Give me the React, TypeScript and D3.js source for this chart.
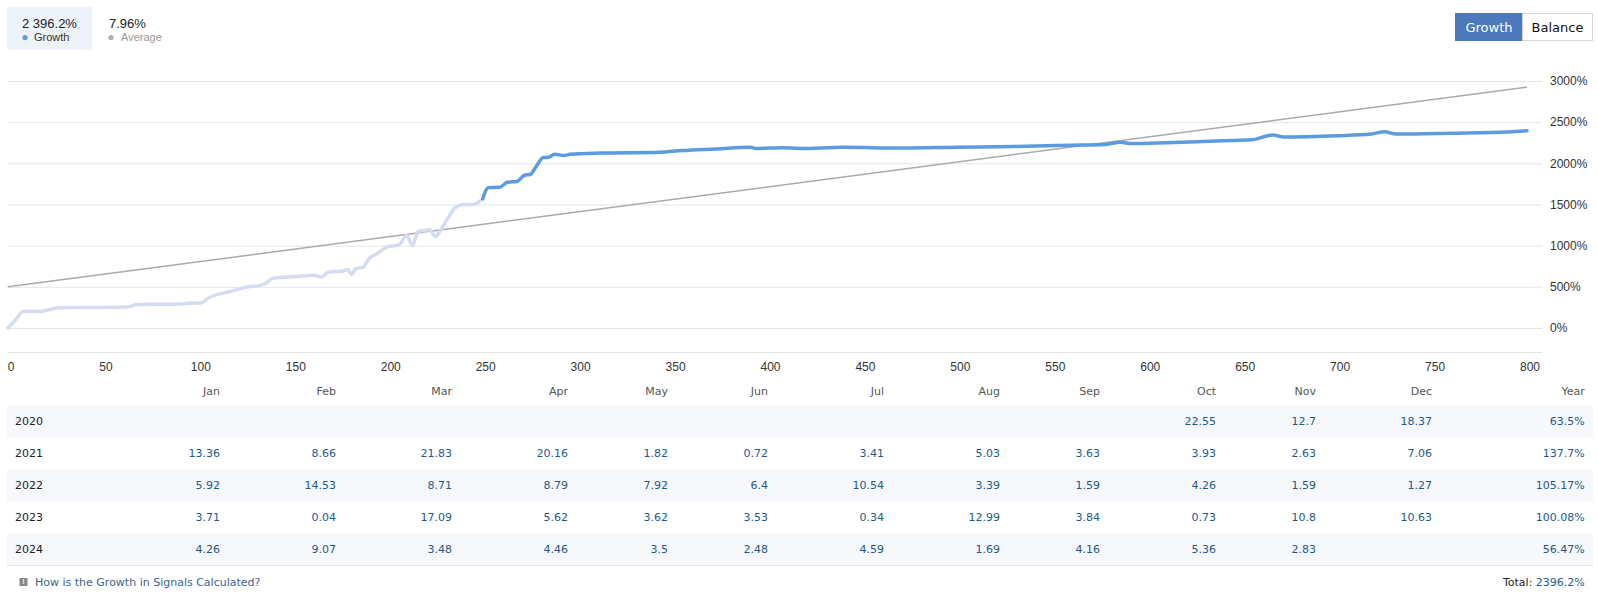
import { useEffect, useRef } from 'react';
import * as d3 from 'd3';

// growth curve (day -> %)
const historyDays = [0, 4, 8, 17, 22, 27, 38, 48, 63, 68, 80, 91, 97, 101, 106, 112, 118, 126, 133, 136, 139, 147, 155, 161, 165, 169, 176, 179, 181, 183, 187, 190, 194, 200, 206, 210, 213, 216, 220, 222, 225, 228, 231, 236, 240, 245, 250];
const historyPct = [0, 100, 200, 200, 225, 245, 250, 250, 255, 285, 288, 290, 305, 300, 370, 418, 450, 498, 518, 546, 600, 620, 632, 640, 620, 680, 690, 710, 650, 720, 740, 840, 900, 985, 1010, 1125, 1000, 1175, 1185, 1195, 1110, 1195, 1310, 1470, 1500, 1500, 1570];

const growthDays = [250, 253, 259, 263, 268, 272, 275, 278, 282, 284, 288, 293, 296, 312, 343, 355, 373, 391, 394, 408, 417, 440, 470, 500, 530, 560, 578, 586, 592, 610, 640, 655, 666, 672, 700, 718, 725, 731, 760, 790, 800];
const growthPct = [1570, 1705, 1710, 1770, 1780, 1855, 1865, 1955, 2070, 2070, 2110, 2095, 2110, 2125, 2135, 2155, 2175, 2195, 2180, 2190, 2180, 2195, 2185, 2195, 2205, 2220, 2230, 2255, 2240, 2250, 2275, 2285, 2345, 2320, 2335, 2355, 2385, 2355, 2365, 2380, 2396];

const averageDays = [0, 800];
const averagePct = [500, 2925];

const yTicks = [0, 500, 1000, 1500, 2000, 2500, 3000];
const xTicks = d3.range(0, 801, 50);

const months = ['Jan', 'Feb', 'Mar', 'Apr', 'May', 'Jun', 'Jul', 'Aug', 'Sep', 'Oct', 'Nov', 'Dec'];
const years = ['2020', '2021', '2022', '2023', '2024'];
const monthly: (number | null)[][] = [
  [null, null, null, null, null, null, null, null, null, 22.55, 12.7, 18.37],
  [13.36, 8.66, 21.83, 20.16, 1.82, 0.72, 3.41, 5.03, 3.63, 3.93, 2.63, 7.06],
  [5.92, 14.53, 8.71, 8.79, 7.92, 6.4, 10.54, 3.39, 1.59, 4.26, 1.59, 1.27],
  [3.71, 0.04, 17.09, 5.62, 3.62, 3.53, 0.34, 12.99, 3.84, 0.73, 10.8, 10.63],
  [4.26, 9.07, 3.48, 4.46, 3.5, 2.48, 4.59, 1.69, 4.16, 5.36, 2.83, null],
];
const yearly = ['63.5%', '137.7%', '105.17%', '100.08%', '56.47%'];

const totalGrowth = '2 396.2%';
const averageMonthly = '7.96%';
const totalLabel = '2396.2%';

const W = 1598;
const H = 598;
const FONT = '"Liberation Sans", Arial, sans-serif';
const TFONT = '"DejaVu Sans", Tahoma, sans-serif';

function Chart() {
  const ref = useRef<SVGSVGElement>(null);

  useEffect(() => {
    if (!ref.current) return;
    const svg = d3.select(ref.current);
    svg.selectAll('*').remove();

    const x = d3.scaleLinear().domain([0, 800]).range([8, 1527]);
    const y = d3.scaleLinear().domain([0, 3000]).range([328, 81]);

    // header summary
    const head = svg.append('g');
    head.append('rect').attr('x', 7).attr('y', 7).attr('width', 85).attr('height', 43).attr('fill', '#eef2f9');
    head.append('text').attr('x', 22).attr('y', 28).attr('font-family', FONT).attr('font-size', 13).attr('fill', '#222').text(totalGrowth);
    head.append('circle').attr('cx', 25).attr('cy', 37.5).attr('r', 2.6).attr('fill', '#5b9be0');
    head.append('text').attr('x', 34).attr('y', 41).attr('font-family', FONT).attr('font-size', 11).attr('fill', '#333').text('Growth');
    head.append('text').attr('x', 109).attr('y', 28).attr('font-family', FONT).attr('font-size', 13).attr('fill', '#222').text(averageMonthly);
    head.append('circle').attr('cx', 111).attr('cy', 37.5).attr('r', 2.6).attr('fill', '#b0b0b0');
    head.append('text').attr('x', 121).attr('y', 41).attr('font-family', FONT).attr('font-size', 11).attr('fill', '#999').text('Average');

    // toggle buttons
    const btn = svg.append('g');
    btn.append('rect').attr('x', 1455.5).attr('y', 13.5).attr('width', 67).attr('height', 27).attr('fill', '#4b79bb').attr('stroke', '#4b79bb');
    btn.append('rect').attr('x', 1522.5).attr('y', 13.5).attr('width', 70).attr('height', 27).attr('fill', '#fff').attr('stroke', '#d6d6d6');
    btn.append('text').attr('x', 1489).attr('y', 27).attr('dy', '0.35em').attr('text-anchor', 'middle').attr('font-family', TFONT).attr('font-size', 13).attr('fill', '#fff').text('Growth');
    btn.append('text').attr('x', 1557.5).attr('y', 27).attr('dy', '0.35em').attr('text-anchor', 'middle').attr('font-family', TFONT).attr('font-size', 13).attr('fill', '#111').text('Balance');

    // grid + y labels
    const grid = svg.append('g');
    grid.selectAll('line')
      .data(yTicks)
      .join('line')
      .attr('x1', 7)
      .attr('x2', 1542)
      .attr('y1', (d) => y(d) + 0.5)
      .attr('y2', (d) => y(d) + 0.5)
      .attr('stroke', '#e6e6e6');
    grid.append('line').attr('x1', 7).attr('x2', 1542).attr('y1', 352.5).attr('y2', 352.5).attr('stroke', '#e6e6e6');
    grid.selectAll('text')
      .data(yTicks)
      .join('text')
      .attr('x', 1550)
      .attr('y', (d) => y(d))
      .attr('dy', '0.35em')
      .attr('font-family', FONT)
      .attr('font-size', 12)
      .attr('fill', '#333')
      .text((d) => `${d}%`);

    // x labels
    svg.append('g')
      .selectAll('text')
      .data(xTicks)
      .join('text')
      .attr('x', (d) => x(d) + 3)
      .attr('y', 367)
      .attr('dy', '0.35em')
      .attr('text-anchor', 'middle')
      .attr('font-family', FONT)
      .attr('font-size', 12)
      .attr('fill', '#333')
      .text((d) => d);

    // lines
    const mk = (days: number[], pct: number[], curve: d3.CurveFactory) =>
      d3.line<number>()
        .x((d) => x(d))
        .y((_, i) => y(pct[i]))
        .curve(curve)(days) as string;

    svg.append('path').attr('d', mk(averageDays, averagePct, d3.curveLinear)).attr('fill', 'none').attr('stroke', '#aaa').attr('stroke-width', 1.5);
    svg.append('path').attr('d', mk(historyDays, historyPct, d3.curveMonotoneX)).attr('fill', 'none').attr('stroke', '#d5dcf2').attr('stroke-width', 3.5).attr('stroke-linejoin', 'round').attr('stroke-linecap', 'round');
    svg.append('path').attr('d', mk(growthDays, growthPct, d3.curveMonotoneX)).attr('fill', 'none').attr('stroke', '#5b9be0').attr('stroke-width', 3.5).attr('stroke-linejoin', 'round').attr('stroke-linecap', 'round');

    // monthly table, column widths from content length (like an auto-layout table)
    const textLen = (s: string) => s.length + (s.includes('%') ? 0.3 : 0);
    const colWidths = months.map((_, j) =>
      36 + 16 * d3.max(monthly, (r) => (r[j] == null ? 0 : textLen(String(r[j]))))!
    );
    colWidths.push(36 + 16 * d3.max(yearly, textLen)!);
    const colRights: number[] = [];
    let acc = 104;
    colWidths.forEach((w) => {
      acc += w;
      colRights.push(acc);
    });
    const headers = [...months, 'Year'];

    const table = svg.append('g');
    const rowTop = 405;
    const rowH = 32;
    years.forEach((_, i) => {
      if (i % 2 === 0) {
        table.append('rect').attr('x', 7).attr('y', rowTop + i * rowH).attr('width', 1586).attr('height', rowH).attr('fill', '#f6f8fc');
      }
    });
    table.append('line').attr('x1', 7).attr('x2', 1593).attr('y1', 565.5).attr('y2', 565.5).attr('stroke', '#e8e8e8');

    table.selectAll('text.h')
      .data(headers)
      .join('text')
      .attr('class', 'h')
      .attr('x', (_, j) => colRights[j])
      .attr('y', 391)
      .attr('dy', '0.35em')
      .attr('text-anchor', 'end')
      .attr('font-family', TFONT)
      .attr('font-size', 11)
      .attr('fill', '#555')
      .text((d) => d);

    years.forEach((yr, i) => {
      const cy = rowTop + i * rowH + rowH / 2;
      table.append('text').attr('x', 15).attr('y', cy).attr('dy', '0.35em').attr('font-family', TFONT).attr('font-size', 11).attr('fill', '#222').text(yr);
      const cells = [...monthly[i].map((v) => (v == null ? '' : String(v))), yearly[i]];
      table.append('g')
        .selectAll('text')
        .data(cells)
        .join('text')
        .attr('x', (_, j) => colRights[j])
        .attr('y', cy)
        .attr('dy', '0.35em')
        .attr('text-anchor', 'end')
        .attr('font-family', TFONT)
        .attr('font-size', 11)
        .attr('fill', '#1d5a8c')
        .text((d) => d);
    });

    // footer
    const foot = svg.append('g');
    foot.append('rect').attr('x', 19.5).attr('y', 578).attr('width', 8).attr('height', 8).attr('fill', '#888');
    foot.append('text').attr('x', 23.5).attr('y', 582).attr('dy', '0.35em').attr('text-anchor', 'middle').attr('font-family', FONT).attr('font-size', 7).attr('font-weight', 'bold').attr('fill', '#fff').text('!');
    foot.append('text').attr('x', 35).attr('y', 582).attr('dy', '0.35em').attr('font-family', TFONT).attr('font-size', 11).attr('fill', '#3d6390').text('How is the Growth in Signals Calculated?');
    const tot = foot.append('text').attr('x', colRights[colRights.length - 1]).attr('y', 582).attr('dy', '0.35em').attr('text-anchor', 'end').attr('font-family', TFONT).attr('font-size', 11);
    tot.append('tspan').attr('fill', '#222').text('Total: ');
    tot.append('tspan').attr('fill', '#1d5a8c').text(totalLabel);
  }, []);

  return <svg ref={ref} width={W} height={H} style={{ display: 'block' }} />;
}

export default function App() {
  return (
    <div style={{ position: 'absolute', left: 0, top: 0, width: W, height: H, background: '#fff', overflow: 'hidden' }}>
      <Chart />
    </div>
  );
}
